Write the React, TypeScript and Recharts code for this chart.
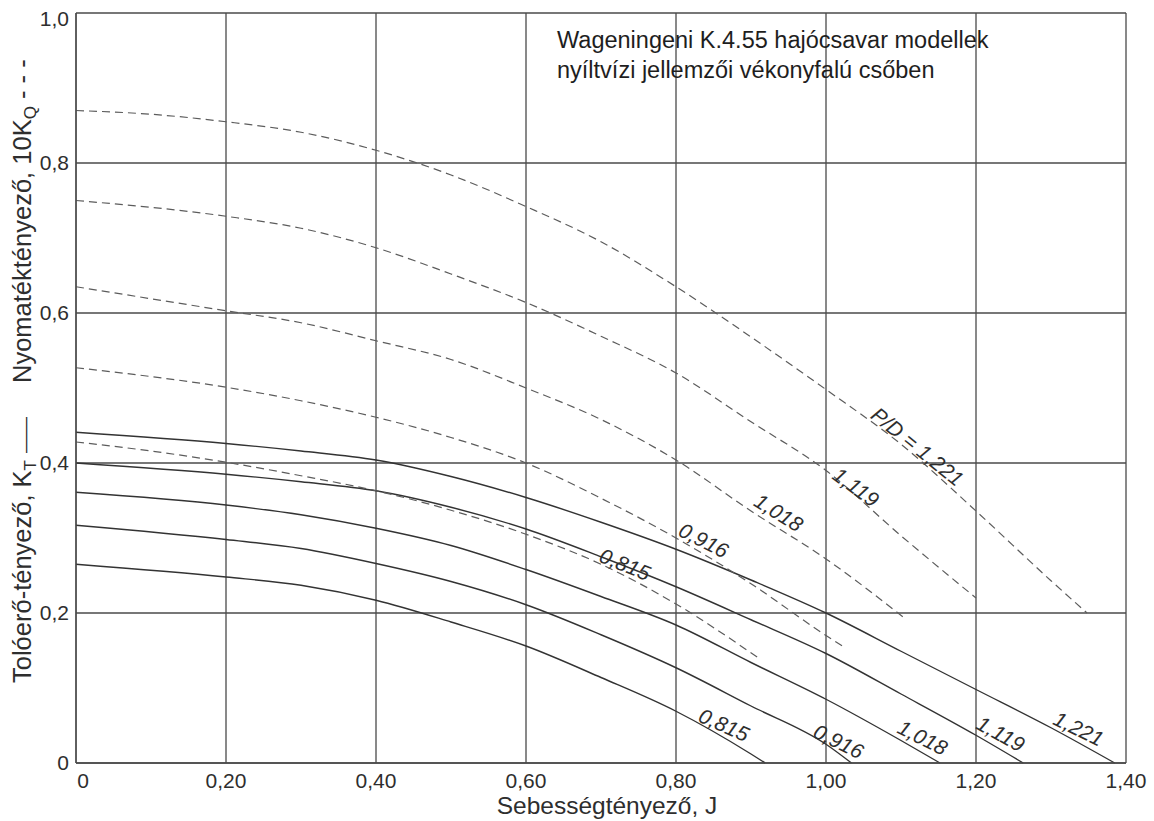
import React from "react";
import {
  LineChart,
  Line,
  XAxis,
  YAxis,
  CartesianGrid,
  ReferenceDot,
  Customized,
} from "recharts";

// Advance coefficient grid and curve values, Wageningen K.4.55 in duct
// Thrust coefficient K_T (solid lines)
const J_KT_0815 = [0, 0.2, 0.3, 0.4, 0.5, 0.6, 0.7, 0.8, 0.9, 0.919];
const KT_0815 = [0.265, 0.248, 0.237, 0.217, 0.188, 0.156, 0.114, 0.069, 0.012, 0];

const J_KT_0916 = [0, 0.2, 0.3, 0.4, 0.5, 0.6, 0.7, 0.8, 0.9, 1.0, 1.034];
const KT_0916 = [0.317, 0.298, 0.286, 0.266, 0.242, 0.211, 0.171, 0.127, 0.076, 0.025, 0];

const J_KT_1018 = [0, 0.2, 0.3, 0.4, 0.5, 0.6, 0.7, 0.8, 0.9, 1.0, 1.1, 1.152];
const KT_1018 = [0.361, 0.344, 0.331, 0.313, 0.29, 0.258, 0.222, 0.184, 0.134, 0.085, 0.03, 0];

const J_KT_1119 = [0, 0.2, 0.3, 0.4, 0.5, 0.6, 0.7, 0.8, 0.9, 1.0, 1.1, 1.2, 1.263];
const KT_1119 = [0.4, 0.385, 0.375, 0.363, 0.341, 0.312, 0.275, 0.235, 0.191, 0.146, 0.092, 0.037, 0];

const J_KT_1221 = [0, 0.2, 0.3, 0.4, 0.5, 0.6, 0.7, 0.8, 0.9, 1.0, 1.1, 1.2, 1.3, 1.385];
const KT_1221 = [0.441, 0.426, 0.416, 0.404, 0.382, 0.354, 0.321, 0.285, 0.244, 0.2, 0.149, 0.098, 0.047, 0];

// Torque coefficient 10·K_Q (dashed lines)
const J_KQ_0815 = [0, 0.1, 0.2, 0.3, 0.4, 0.5, 0.6, 0.7, 0.8, 0.91];
const KQ_0815 = [0.428, 0.416, 0.401, 0.383, 0.363, 0.337, 0.305, 0.265, 0.212, 0.14];

const J_KQ_0916 = [0, 0.2, 0.3, 0.4, 0.5, 0.6, 0.7, 0.8, 0.9, 1.0, 1.025];
const KQ_0916 = [0.527, 0.501, 0.483, 0.461, 0.434, 0.4, 0.353, 0.3, 0.239, 0.17, 0.154];

const J_KQ_1018 = [0, 0.2, 0.3, 0.4, 0.5, 0.6, 0.7, 0.8, 0.9, 1.0, 1.105];
const KQ_1018 = [0.635, 0.603, 0.587, 0.563, 0.538, 0.5, 0.458, 0.404, 0.336, 0.272, 0.193];

const J_KQ_1119 = [0, 0.2, 0.3, 0.4, 0.5, 0.6, 0.7, 0.8, 0.9, 1.0, 1.1, 1.2];
const KQ_1119 = [0.75, 0.729, 0.713, 0.687, 0.652, 0.614, 0.569, 0.52, 0.455, 0.39, 0.303, 0.22];

const J_KQ_1221 = [0, 0.1, 0.2, 0.3, 0.4, 0.5, 0.6, 0.7, 0.8, 0.9, 1.0, 1.1, 1.2, 1.3, 1.348];
const KQ_1221 = [0.87, 0.865, 0.855, 0.841, 0.817, 0.784, 0.742, 0.695, 0.635, 0.568, 0.498, 0.425, 0.336, 0.243, 0.2];

// Axis ticks
const X_TICKS = [0, 0.2, 0.4, 0.6, 0.8, 1.0, 1.2, 1.4];
const Y_TICKS = [0, 0.2, 0.4, 0.6, 0.8, 1.0];

// Curve annotations (P/D values), anchored at (J, value) with a rotation in degrees
const CURVE_LABELS = ["P/D = 1,221", "1,119", "1,018", "0,916", "0,815", "0,815", "0,916", "1,018", "1,119", "1,221"];
const LABEL_J = [1.122, 1.04, 0.937, 0.837, 0.732, 0.864, 1.017, 1.129, 1.233, 1.337];
const LABEL_V = [0.422, 0.368, 0.334, 0.297, 0.265, 0.051, 0.029, 0.034, 0.039, 0.046];
const LABEL_ANGLE = [39, 36, 32, 27, 22, 24, 26, 27, 29, 26];

const TITLE_LINES = [
  "Wageningeni K.4.55 hajócsavar modellek",
  "nyíltvízi jellemzői vékonyfalú csőben",
];
const X_TITLE = "Sebességtényező, J";

const FONT = "'Liberation Sans', Arial, Helvetica, sans-serif";
const INK = "#2e2e2e";

const toPoints = (js: number[], vs: number[]) => js.map((J, i) => ({ J, v: vs[i] }));

const SERIES = [
  { id: "kt0815", data: toPoints(J_KT_0815, KT_0815), dashed: false },
  { id: "kt0916", data: toPoints(J_KT_0916, KT_0916), dashed: false },
  { id: "kt1018", data: toPoints(J_KT_1018, KT_1018), dashed: false },
  { id: "kt1119", data: toPoints(J_KT_1119, KT_1119), dashed: false },
  { id: "kt1221", data: toPoints(J_KT_1221, KT_1221), dashed: false },
  { id: "kq0815", data: toPoints(J_KQ_0815, KQ_0815), dashed: true },
  { id: "kq0916", data: toPoints(J_KQ_0916, KQ_0916), dashed: true },
  { id: "kq1018", data: toPoints(J_KQ_1018, KQ_1018), dashed: true },
  { id: "kq1119", data: toPoints(J_KQ_1119, KQ_1119), dashed: true },
  { id: "kq1221", data: toPoints(J_KQ_1221, KQ_1221), dashed: true },
];

const fmtX = (v: number) => (v === 0 ? "0" : v.toFixed(2).replace(".", ","));
const fmtY = (v: number) => (v === 0 ? "0" : v.toFixed(1).replace(".", ","));

const XTick = (props: any) => {
  const { x, y, payload } = props;
  const shift = payload.value === 0 ? 7 : 0;
  return (
    <text x={x + shift} y={y + 25} textAnchor="middle" fontSize={21} fontFamily={FONT} fill={INK}>
      {fmtX(payload.value)}
    </text>
  );
};

const YTick = (props: any) => {
  const { x, y, payload } = props;
  const shift = payload.value === 1 ? 6 : 0;
  return (
    <text x={x - 7} y={y + 7 + shift} textAnchor="end" fontSize={21} fontFamily={FONT} fill={INK}>
      {fmtY(payload.value)}
    </text>
  );
};

const Titles = () => (
  <g fontFamily={FONT} fill="#1e1e1e">
    {TITLE_LINES.map((t, i) => (
      <text key={t} x={557} y={48 + i * 30} fontSize={23.5}>
        {t}
      </text>
    ))}
    <text x={607} y={814} fontSize={24.5} textAnchor="middle" fill={INK}>
      {X_TITLE}
    </text>
    <text x={31} y={683} fontSize={25.5} transform="rotate(-90 31 683)" fill={INK}>
      Tolóerő-tényező, K
      <tspan fontSize={17} dy={5}>T</tspan>
      <tspan dy={-5}> </tspan>
      <tspan fontSize={18}>——</tspan>
    </text>
    <text x={31} y={383} fontSize={25.5} transform="rotate(-90 31 383)" fill={INK}>
      Nyomatéktényező, 10K
      <tspan fontSize={17} dy={5}>Q</tspan>
      <tspan dy={-5}> - - -</tspan>
    </text>
  </g>
);

export default function App() {
  return (
    <div style={{ position: "absolute", left: 0, top: 0, background: "#fff" }}>
      <LineChart
        width={1154}
        height={821}
        margin={{ top: 13, right: 28, left: 0, bottom: 0 }}
        style={{ background: "#fff" }}
      >
        <CartesianGrid stroke="#4a4a4a" strokeWidth={1.3} />
        <XAxis
          type="number"
          dataKey="J"
          domain={[0, 1.4]}
          ticks={X_TICKS}
          allowDuplicatedCategory={false}
          height={58}
          tickLine={false}
          tickSize={0}
          tickMargin={0}
          axisLine={{ stroke: "#4a4a4a", strokeWidth: 1.3 }}
          tick={<XTick />}
          interval={0}
        />
        <YAxis
          type="number"
          domain={[0, 1]}
          ticks={Y_TICKS}
          width={76}
          tickLine={false}
          tickSize={0}
          tickMargin={0}
          axisLine={{ stroke: "#4a4a4a", strokeWidth: 1.3 }}
          tick={<YTick />}
          interval={0}
        />
        {SERIES.map((s) => (
          <Line
            key={s.id}
            data={s.data}
            dataKey="v"
            type="monotone"
            stroke={s.dashed ? "#5c5c5c" : "#333"}
            strokeWidth={s.dashed ? 1.2 : 1.4}
            strokeDasharray={s.dashed ? "8 5" : undefined}
            dot={false}
            activeDot={false}
            isAnimationActive={false}
          />
        ))}
        {CURVE_LABELS.map((t, i) => (
          <ReferenceDot
            key={i}
            x={LABEL_J[i]}
            y={LABEL_V[i]}
            r={0}
            ifOverflow="visible"
            shape={(p: any) => (
              <text
                x={p.cx}
                y={p.cy}
                textAnchor="middle"
                dominantBaseline="central"
                fontSize={21}
                fontStyle="italic"
                fontFamily={FONT}
                fill={INK}
                transform={`rotate(${LABEL_ANGLE[i]} ${p.cx} ${p.cy})`}
              >
                {t}
              </text>
            )}
          />
        ))}
        <Customized component={Titles} />
      </LineChart>
    </div>
  );
}
